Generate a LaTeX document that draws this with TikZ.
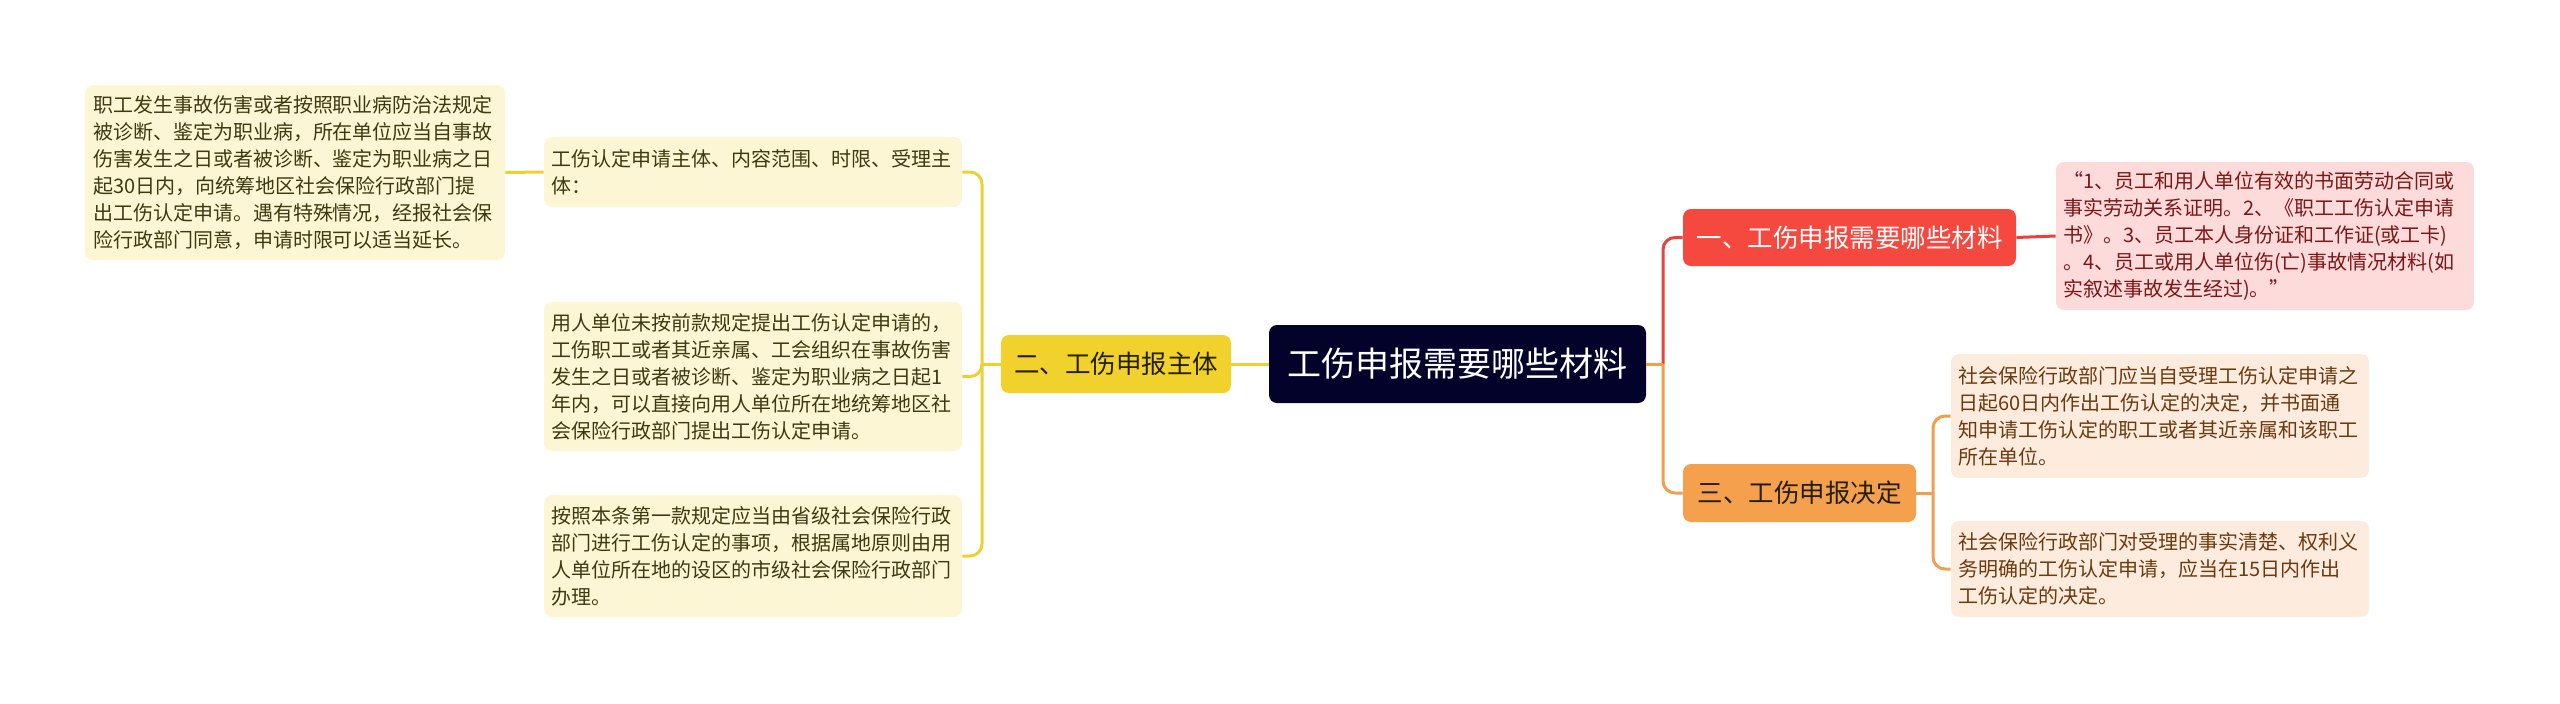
\documentclass[tikz,border=0pt]{standalone}
\usepackage{fontspec}
\newfontfamily\cjk{Noto Sans CJK SC}
\definecolor{rootfill}{HTML}{02022B}
\definecolor{ylw}{HTML}{F1D12B}
\definecolor{ylwline}{HTML}{EFCF35}
\definecolor{ylwleaf}{HTML}{FDF6D5}
\definecolor{ylwtext}{HTML}{3E3A10}
\definecolor{redfill}{HTML}{F5483E}
\definecolor{redline}{HTML}{E5433B}
\definecolor{pinkleaf}{HTML}{FDDBDB}
\definecolor{pinktext}{HTML}{7D1616}
\definecolor{orgfill}{HTML}{F4A04D}
\definecolor{orgline}{HTML}{EFA04F}
\definecolor{orgleaf}{HTML}{FDEBDE}
\definecolor{orgtext}{HTML}{6B3A0E}
\definecolor{darktext}{HTML}{231F08}
\tikzset{
  leaf/.style={rounded corners=4pt, inner xsep=3.5pt, inner ysep=2pt, align=left,
    text width=202pt, minimum width=209pt,
    font=\cjk\fontsize{10}{13.5}\selectfont},
  topic/.style={rounded corners=4pt, inner sep=0pt, align=center,
    font=\cjk\fontsize{12.75}{15}\selectfont},
  conn/.style={line width=1.5pt},
  rconn/.style={line width=1.5pt, rounded corners=6pt}
}
\begin{document}
\begin{tikzpicture}[x=0.5pt,y=-0.5pt]
\useasboundingbox (0,0) rectangle (2560,703);
% root
\node[topic, fill=rootfill, text=white, minimum width=188.5pt, minimum height=39pt,
  font=\cjk\fontsize{17}{20}\selectfont] (root) at (1457.5,364) {工伤申报需要哪些材料};
% main topics
\node[topic, fill=ylw, text=darktext, minimum width=115pt, minimum height=29pt] (two) at (1116,364) {二、工伤申报主体};
\node[topic, fill=redfill, text=white, minimum width=166.5pt, minimum height=28.5pt] (one) at (1849.5,237.5) {一、工伤申报需要哪些材料};
\node[topic, fill=orgfill, text=darktext, minimum width=116.5pt, minimum height=29pt] (three) at (1799.5,493) {三、工伤申报决定};
% yellow leaves
\node[leaf, fill=ylwleaf, text=ylwtext, minimum height=35pt] (y1) at (753,172) {工伤认定申请主体、内容范围、时限、受理主\\体：};
\node[leaf, fill=ylwleaf, text=ylwtext, minimum height=74.5pt] (y2) at (753,376.5) {用人单位未按前款规定提出工伤认定申请的，\\工伤职工或者其近亲属、工会组织在事故伤害\\发生之日或者被诊断、鉴定为职业病之日起1\\年内，可以直接向用人单位所在地统筹地区社\\会保险行政部门提出工伤认定申请。};
\node[leaf, fill=ylwleaf, text=ylwtext, minimum height=61pt] (y3) at (753,556) {按照本条第一款规定应当由省级社会保险行政\\部门进行工伤认定的事项，根据属地原则由用\\人单位所在地的设区的市级社会保险行政部门\\办理。};
\node[leaf, fill=ylwleaf, text=ylwtext, minimum height=87.5pt, minimum width=210pt] (fl) at (295,172.5) {职工发生事故伤害或者按照职业病防治法规定\\被诊断、鉴定为职业病，所在单位应当自事故\\伤害发生之日或者被诊断、鉴定为职业病之日\\起30日内，向统筹地区社会保险行政部门提\\出工伤认定申请。遇有特殊情况，经报社会保\\险行政部门同意，申请时限可以适当延长。};
% pink leaf
\node[leaf, fill=pinkleaf, text=pinktext, minimum height=74pt] (p1) at (2265,236) {“1、员工和用人单位有效的书面劳动合同或\\事实劳动关系证明。2、《职工工伤认定申请\\书》。3、员工本人身份证和工作证(或工卡)\\。4、员工或用人单位伤(亡)事故情况材料(如\\实叙述事故发生经过)。”};
% orange leaves
\node[leaf, fill=orgleaf, text=orgtext, minimum height=62pt] (o1) at (2160,416) {社会保险行政部门应当自受理工伤认定申请之\\日起60日内作出工伤认定的决定，并书面通\\知申请工伤认定的职工或者其近亲属和该职工\\所在单位。};
\node[leaf, fill=orgleaf, text=orgtext, minimum height=48pt] (o2) at (2160,569) {社会保险行政部门对受理的事实清楚、权利义\\务明确的工伤认定申请，应当在15日内作出\\工伤认定的决定。};
% junctions
\coordinate (lj) at (982,364);
\coordinate (rj) at (1663,364);
\coordinate (oj) at (1933,493);
% left connectors
\draw[conn, ylwline] (root.west) -- (two.east);
\draw[conn, ylwline] (two.west) -- (lj);
\draw[rconn, ylwline] (lj) |- (y1.east);
\draw[rconn, ylwline] (lj) |- (y2.east);
\draw[rconn, ylwline] (lj) |- (y3.east);
\draw[conn, ylwline] (y1.west) -- (fl.east);
% right connectors
\draw[rconn, redline] (rj) |- (one.west);
\draw[rconn, orgline] (rj) |- (three.west);
\draw[conn, orgline] (root.east) -- (rj);
\draw[conn, redline] (one.east) -- (p1.west);
\draw[conn, orgline] (three.east) -- (oj);
\draw[rconn, orgline] (oj) |- (o1.west);
\draw[rconn, orgline] (oj) |- (o2.west);
\end{tikzpicture}
\end{document}
